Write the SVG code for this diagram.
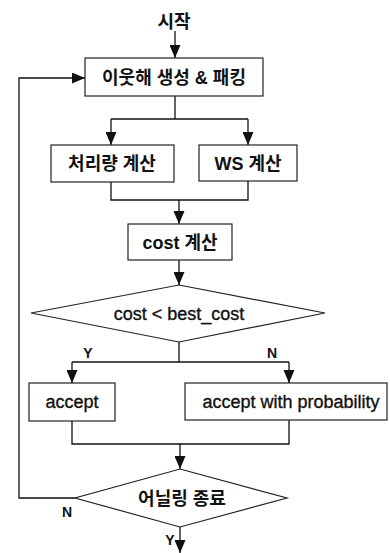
<svg xmlns="http://www.w3.org/2000/svg" width="390" height="553" viewBox="0 0 390 553">
<defs>
<marker id="arr" markerUnits="userSpaceOnUse" markerWidth="13" markerHeight="11" refX="13" refY="5.5" orient="auto">
<path d="M0,0 L13,5.5 L0,11 z" fill="#111"/>
</marker>
</defs>
<style>
.box{fill:#fff;stroke:#222;stroke-width:1.2}
.ln{fill:none;stroke:#111;stroke-width:1.3}
.ko{font-family:"Liberation Sans","Noto Sans CJK KR",sans-serif;font-size:18px;font-weight:bold;fill:#111;text-anchor:middle}
.en{font-family:"Liberation Sans","Noto Sans CJK KR",sans-serif;font-size:18px;fill:#111;stroke:#111;stroke-width:0.35;text-anchor:middle}
.lb{font-family:"Liberation Sans",sans-serif;font-size:14px;font-weight:bold;fill:#111;text-anchor:middle}
</style>
<rect width="390" height="553" fill="#fff"/>
<g id="connectors">
<line class="ln" x1="175" y1="31" x2="175" y2="58" marker-end="url(#arr)"/>
<polyline class="ln" points="175,96 175,119"/>
<polyline class="ln" points="111,119 248,119"/>
<line class="ln" x1="111" y1="119" x2="111" y2="145" marker-end="url(#arr)"/>
<line class="ln" x1="248" y1="119" x2="248" y2="145" marker-end="url(#arr)"/>
<polyline class="ln" points="111,182 111,200 248,200 248,181"/>
<line class="ln" x1="179" y1="200" x2="179" y2="224" marker-end="url(#arr)"/>
<line class="ln" x1="179" y1="260" x2="179" y2="285" marker-end="url(#arr)"/>
<polyline class="ln" points="179,342 179,362"/>
<polyline class="ln" points="72,362 289,362"/>
<line class="ln" x1="72" y1="362" x2="72" y2="383" marker-end="url(#arr)"/>
<line class="ln" x1="289" y1="362" x2="289" y2="383" marker-end="url(#arr)"/>
<polyline class="ln" points="72,421 72,444 289,444 289,420"/>
<line class="ln" x1="180" y1="444" x2="180" y2="469" marker-end="url(#arr)"/>
<polyline class="ln" points="75,498 19,498 19,78 85,78" marker-end="url(#arr)"/>
<line class="ln" x1="180" y1="527" x2="180" y2="553" marker-end="url(#arr)"/>
<text class="lb" x="88" y="358">Y</text>
<text class="lb" x="272" y="358">N</text>
<text class="lb" x="67" y="517">N</text>
<text class="lb" x="170" y="545">Y</text>
</g>
<g id="start">
<text class="ko" x="174" y="28">시작</text>
</g>
<g id="neighbor">
<rect class="box" x="85" y="58" width="178" height="38"/>
<text class="ko" x="174" y="84">이웃해 생성 &amp; 패킹</text>
</g>
<g id="throughput">
<rect class="box" x="51" y="145" width="123" height="37"/>
<text class="ko" x="112" y="170">처리량 계산</text>
</g>
<g id="ws">
<rect class="box" x="199" y="145" width="98" height="36"/>
<text class="ko" x="248" y="170">WS 계산</text>
</g>
<g id="cost">
<rect class="box" x="128" y="224" width="104" height="36"/>
<text class="ko" x="180" y="249">cost 계산</text>
</g>
<g id="compare">
<polygon class="box" points="179,285 325,313 179,342 31,313"/>
<text class="en" x="179" y="320">cost &lt; best_cost</text>
</g>
<g id="accept">
<rect class="box" x="29" y="383" width="86" height="38"/>
<text class="en" x="72" y="408">accept</text>
</g>
<g id="acceptprob">
<rect class="box" x="185" y="383" width="202" height="37"/>
<text class="en" x="291" y="408">accept with probability</text>
</g>
<g id="end">
<polygon class="box" points="180,469 287,498 180,527 75,498"/>
<text class="ko" x="182" y="505">어닐링 종료</text>
</g>
</svg>
